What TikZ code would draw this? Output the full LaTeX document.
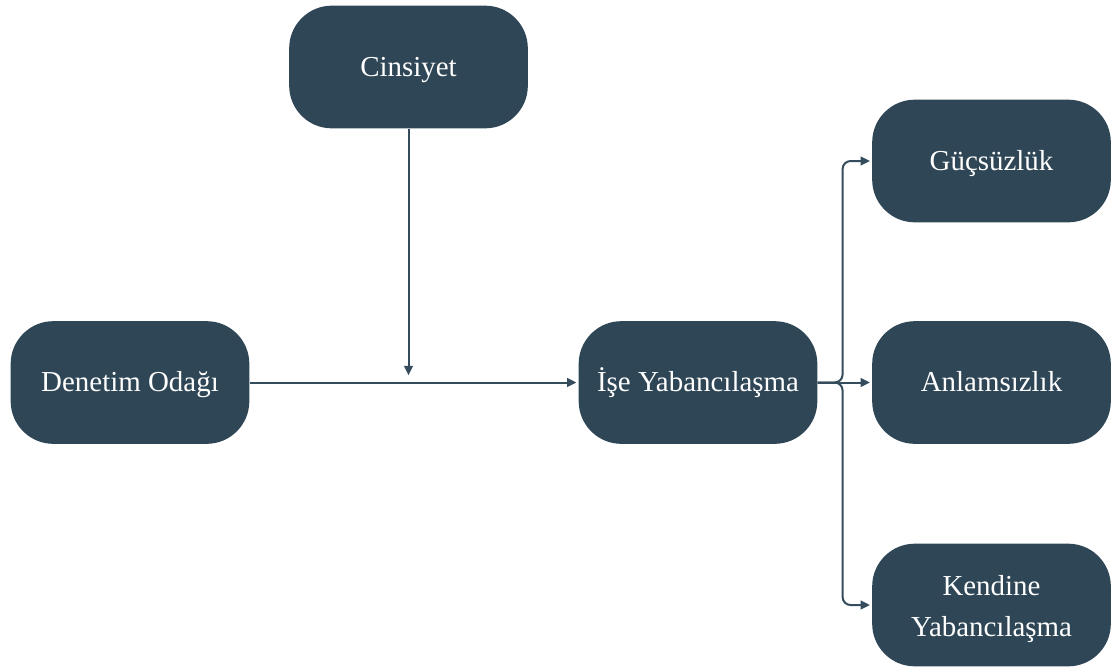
\documentclass[tikz,border=0pt]{standalone}
\usepackage{fontspec}
\setmainfont{Liberation Serif}
\usetikzlibrary{arrows.meta}
\definecolor{boxc}{RGB}{46,70,85}
\definecolor{linec}{RGB}{52,76,92}
\tikzset{
  box/.style={draw=none, fill=boxc, rounded corners=32pt, minimum width=179pt, minimum height=92pt,
    text=white, align=center, font=\fontsize{21.7}{30.5}\selectfont, inner sep=0pt,
    text height=16pt, text depth=2.5pt},
  arr/.style={draw=linec, line width=1.5pt, -{Triangle[length=7pt,width=6.5pt]}, shorten >=1.5pt}
}
\begin{document}
\begin{tikzpicture}[x=0.75pt,y=-0.75pt]
\useasboundingbox (0,0) rectangle (1112,668);
\node[box] (cins) at (408.5,67) {Cinsiyet};
\node[box] (den) at (130,382.5) {Denetim Odağı};
\node[box] (ise) at (698,382.5) {İşe Yabancılaşma};
\node[box] (guc) at (991.5,161) {Güçsüzlük};
\node[box] (anl) at (991.5,382.5) {Anlamsızlık};
\node[box, text height=49pt] (ken) at (991.5,605) {Kendine\\Yabancılaşma};
\coordinate (mid) at (408.5,382.5);
\draw[arr] (den.east) -- (ise.west);
\draw[arr] (cins.south) -- ([yshift=4pt]mid);
\draw[arr] (ise.east) -- (anl.west);
\draw[arr, rounded corners=6pt] (ise.east) -- ++(25,0) |- (guc.west);
\draw[arr, rounded corners=6pt] (ise.east) -- ++(25,0) |- (ken.west);
\end{tikzpicture}
\end{document}
